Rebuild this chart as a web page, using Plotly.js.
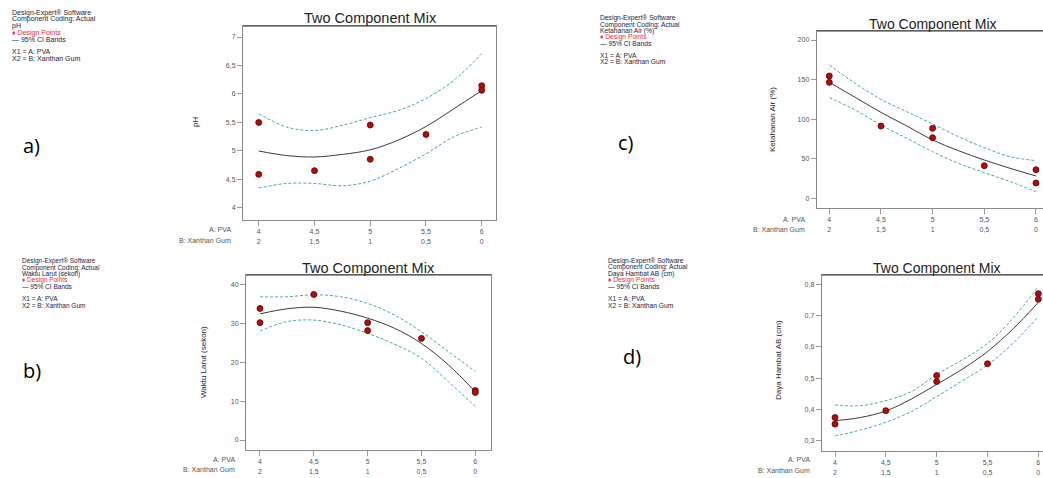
<!DOCTYPE html>
<html><head><meta charset="utf-8">
<script src="https://cdn.plot.ly/plotly-3.0.1.min.js"></script>
<style>html,body{margin:0;padding:0;background:#fff}#c{width:1043px;height:478px}</style>
</head><body><div id="c"></div>
<script>
// ---- data ----
const curveX = [4, 4.25, 4.5, 4.75, 5, 5.25, 5.5, 5.75, 6];
const pvaTicks = [4, 4.5, 5, 5.5, 6];
const pvaLabels = ['4', '4,5', '5', '5,5', '6'];
const xanthanLabels = ['2', '1,5', '1', '0,5', '0'];
const pointsX = [4, 4, 4.5, 5, 5, 5.5, 6, 6];

// a) pH
const phPoints = [5.50, 4.59, 4.655, 5.456, 4.854, 5.29, 6.146, 6.064];
const phFit = [5.0, 4.92, 4.895, 4.94, 5.02, 5.19, 5.43, 5.74, 6.06];
const phUpper = [5.655, 5.42, 5.36, 5.45, 5.585, 5.71, 5.92, 6.24, 6.71];
const phLower = [4.35, 4.43, 4.43, 4.39, 4.47, 4.69, 4.95, 5.25, 5.42];
const phTicks = [4, 4.5, 5, 5.5, 6, 6.5, 7];
const phTickLabels = ['4', '4,5', '5', '5,5', '6', '6,5', '7'];

// b) Waktu Larut (sekon)
const wlPoints = [33.8, 30.15, 37.4, 30.15, 28.1, 26.1, 12.7, 12.2];
const wlFit = [32.4, 33.7, 34.1, 33.1, 31.3, 28.7, 24.8, 19.3, 12.4];
const wlUpper = [36.8, 36.8, 37.3, 36.8, 35.1, 32.1, 27.8, 22.7, 17.6];
const wlLower = [28.0, 30.4, 30.8, 29.6, 27.4, 24.6, 21.0, 15.0, 8.6];
const wlTicks = [0, 10, 20, 30, 40];
const wlTickLabels = ['0', '10', '20', '30', '40'];

// c) Ketahanan Air (%)
const kaPoints = [154.5, 146.5, 91.3, 88.4, 76.6, 41.2, 36.1, 19.3];
const kaFit = [146.5, 127.6, 108.6, 91.4, 73.7, 60.2, 48.4, 37.9, 28.2];
const kaUpper = [168.4, 145.3, 125, 109.5, 93.9, 77.9, 64, 52.6, 47.6];
const kaLower = [127.2, 111.6, 92.6, 75.8, 58.9, 44.2, 32.4, 21.1, 8.4];
const kaTicks = [0, 50, 100, 150, 200];
const kaTickLabels = ['0', '50', '100', '150', '200'];

// d) Daya Hambat AB (cm)
const dhPoints = [0.374, 0.353, 0.396, 0.508, 0.489, 0.546, 0.770, 0.752];
const dhFit = [0.364, 0.374, 0.395, 0.433, 0.480, 0.528, 0.585, 0.657, 0.742];
const dhUpper = [0.414, 0.412, 0.428, 0.457, 0.512, 0.558, 0.611, 0.691, 0.793];
const dhLower = [0.315, 0.334, 0.359, 0.393, 0.441, 0.491, 0.542, 0.611, 0.697];
const dhTicks = [0.3, 0.4, 0.5, 0.6, 0.7, 0.8];
const dhTickLabels = ['0,3', '0,4', '0,5', '0,6', '0,7', '0,8'];

const panelNames = ['pH', 'Waktu Larut (sekon)', 'Ketahanan Air (%)', 'Daya Hambat AB (cm)'];
const chartTitle = 'Two Component Mix';
const headerLines = ['Design-Expert® Software', 'Component Coding: Actual'];
const legendPoints = '♦ Design Points';
const legendBands = '— 95% CI Bands';
const factorLines = ['X1 = A: PVA', 'X2 = B: Xanthan Gum'];
const rowNames = ['A: PVA', 'B: Xanthan Gum'];
const panelLetters = ['a)', 'b)', 'c)', 'd)'];

// ---- layout helpers ----
const W = 1043, H = 478;
const PX = x => x / W, PY = y => 1 - y / H;
const FONT = 'Liberation Sans, Arial, sans-serif';

const panels = [
  {name: panelNames[0], pts: phPoints, fit: phFit, up: phUpper, lo: phLower, yt: phTicks, ytl: phTickLabels,
   box: [243, 496, 26, 220], xr: [3.859, 6.128], yr: [3.789, 7.193],
   title: [370, 18, 14.5], ylab: [196, 122], rows: [233, 229.5, 240.5],
   leg: {x: 10, ys: [12.7, 19.2, 25.7, 32.6, 39.3, 52, 58.7], fs: 7}, letter: [21, 145]},
  {name: panelNames[1], pts: wlPoints, fit: wlFit, up: wlUpper, lo: wlLower, yt: wlTicks, ytl: wlTickLabels,
   box: [246, 491, 275, 450], xr: [3.870, 6.146], yr: [-2.57, 42.39],
   title: [368, 267.5, 14.5], ylab: [203, 362], rows: [236.5, 459.5, 469.5],
   leg: {x: 20, ys: [261, 267.5, 274, 280.3, 286.7, 298.7, 305], fs: 6.5}, letter: [21, 370]},
  {name: panelNames[2], pts: kaPoints, fit: kaFit, up: kaUpper, lo: kaLower, yt: kaTicks, ytl: kaTickLabels,
   box: [816.7, 1043, 31, 208], xr: [3.878, 6.068], yr: [-12.25, 211.4],
   title: [932.7, 24, 14], ylab: [772, 120], rows: [806.5, 219, 229],
   leg: {x: 598, ys: [18.3, 24.5, 30.7, 37, 43.3, 56, 62], fs: 6.7}, letter: [616, 143]},
  {name: panelNames[3], pts: dhPoints, fit: dhFit, up: dhUpper, lo: dhLower, yt: dhTicks, ytl: dhTickLabels,
   box: [821.7, 1043, 275, 451], xr: [3.869, 6.046], yr: [0.267, 0.8297],
   title: [936.7, 267.5, 14], ylab: [778, 360], rows: [811.5, 459, 470],
   leg: {x: 606, ys: [261, 267.3, 274, 280.3, 286.7, 298.3, 305], fs: 6.7}, letter: [621, 356]}
];

const traces = [];
const layout = {
  width: W, height: H, margin: {l: 0, r: 0, t: 0, b: 0},
  paper_bgcolor: '#fff', plot_bgcolor: '#fff', showlegend: false,
  font: {family: FONT, color: '#333'},
  annotations: [], shapes: []
};

const xTickText = pvaLabels.map((p, i) => p + '<br>' + xanthanLabels[i]);
const textColor = '#1c1c3c';

panels.forEach((p, i) => {
  const n = i === 0 ? '' : String(i + 1);
  const xa = 'x' + n, ya = 'y' + n;
  const [l, r, t, b] = p.box;
  const bandStyle = {color: '#45a8a8', width: 1, dash: '3px,2px'};
  traces.push({x: curveX, y: p.up, xaxis: xa, yaxis: ya, mode: 'lines', line: Object.assign({shape: 'spline', smoothing: 1}, bandStyle), hoverinfo: 'skip'});
  traces.push({x: curveX, y: p.lo, xaxis: xa, yaxis: ya, mode: 'lines', line: Object.assign({shape: 'spline', smoothing: 1}, bandStyle), hoverinfo: 'skip'});
  traces.push({x: curveX, y: p.fit, xaxis: xa, yaxis: ya, mode: 'lines', line: {color: '#3a3a3a', width: 1, shape: 'spline', smoothing: 1}, hoverinfo: 'skip'});
  traces.push({x: pointsX, y: p.pts, xaxis: xa, yaxis: ya, mode: 'markers',
    marker: {color: '#b00d0d', size: 6, line: {color: '#5a0000', width: 0.8}}});

  const axBase = {showgrid: false, zeroline: false, showline: true, linecolor: '#8a8a8a', linewidth: 1,
    mirror: true, ticks: 'outside', ticklen: 5, tickcolor: '#9a9a9a', tickwidth: 1,
    tickfont: {family: FONT, size: 7, color: '#555'}, fixedrange: true};
  layout['xaxis' + n] = Object.assign({}, axBase, {domain: [PX(l), Math.min(1, PX(r))], range: p.xr,
    anchor: ya, tickmode: 'array', tickvals: pvaTicks, ticktext: xTickText});
  layout['yaxis' + n] = Object.assign({}, axBase, {domain: [PY(b), PY(t)], range: p.yr,
    anchor: xa, tickmode: 'array', tickvals: p.yt, ticktext: p.ytl});
  // darker top frame
  layout.shapes.push({type: 'line', xref: 'paper', yref: 'paper', x0: PX(l), x1: Math.min(1, PX(r)), y0: PY(t), y1: PY(t),
    line: {color: '#333', width: 1.2}});

  const ann = layout.annotations;
  ann.push({text: chartTitle, x: PX(p.title[0]), y: PY(p.title[1]), xref: 'paper', yref: 'paper',
    xanchor: 'center', yanchor: 'middle', showarrow: false, font: {family: FONT, size: p.title[2], color: '#222'}});
  ann.push({text: p.name, x: PX(p.ylab[0]), y: PY(p.ylab[1]), xref: 'paper', yref: 'paper', textangle: -90,
    xanchor: 'center', yanchor: 'middle', showarrow: false, font: {family: FONT, size: 8, color: '#222'}});
  rowNames.forEach((rn, k) => ann.push({text: rn, x: PX(p.rows[0]), y: PY(p.rows[1 + k]), xref: 'paper', yref: 'paper',
    xanchor: 'right', yanchor: 'middle', showarrow: false, font: {family: FONT, size: 7, color: '#555'}}));
  const legLines = [headerLines[0], headerLines[1], p.name, legendPoints, legendBands, factorLines[0], factorLines[1]];
  legLines.forEach((tx, k) => ann.push({text: tx, x: PX(p.leg.x), y: PY(p.leg.ys[k]), xref: 'paper', yref: 'paper',
    xanchor: 'left', yanchor: 'middle', showarrow: false,
    font: {family: FONT, size: p.leg.fs, color: k === 3 ? '#e0303a' : textColor}}));
  ann.push({text: panelLetters[i], x: PX(p.letter[0]), y: PY(p.letter[1]), xref: 'paper', yref: 'paper',
    xanchor: 'left', yanchor: 'middle', showarrow: false, font: {family: 'Open Sans, Lato, sans-serif', size: 20, color: '#000'}});
});

Plotly.newPlot('c', traces, layout, {staticPlot: true, displayModeBar: false});
</script>
</body></html>
